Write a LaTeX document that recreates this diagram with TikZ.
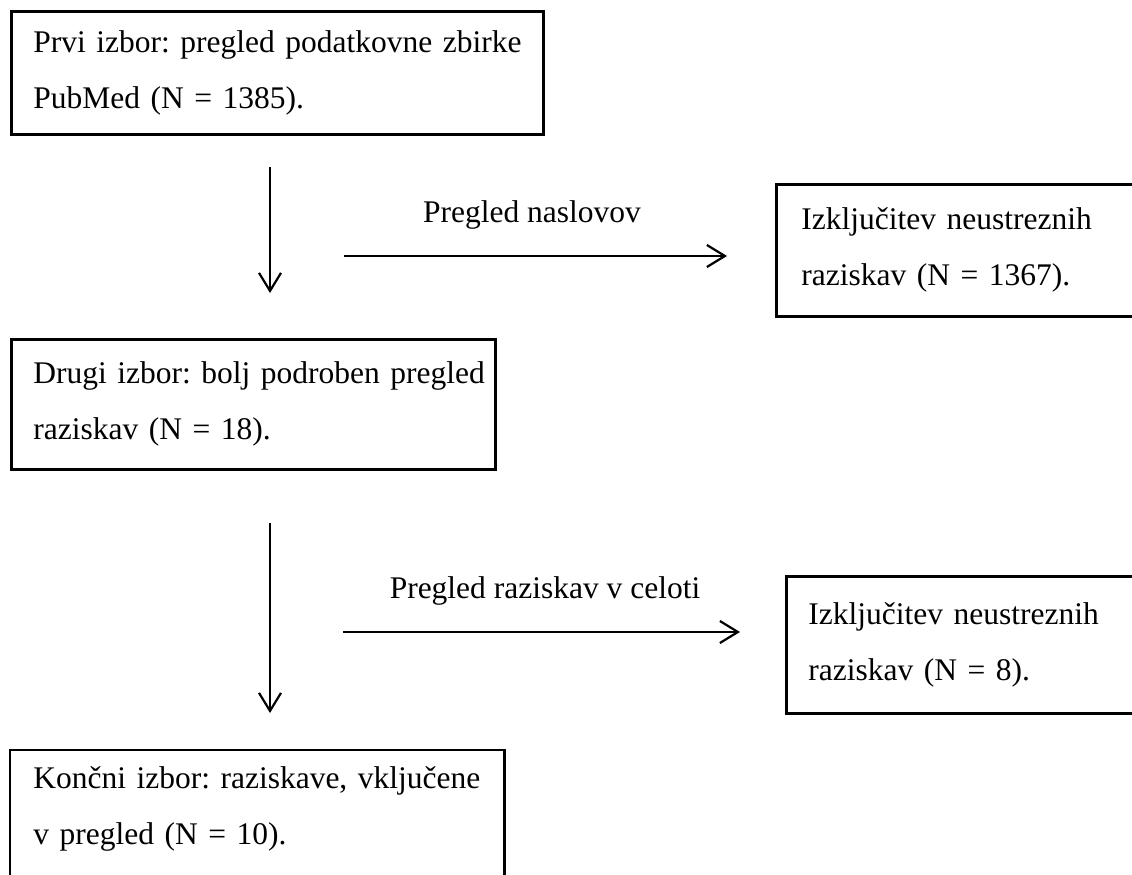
\documentclass[tikz,border=0pt]{standalone}
\usepackage{fontspec}
\setmainfont{Liberation Serif}
\usetikzlibrary{arrows.meta}
\frenchspacing
\begin{document}
\begin{tikzpicture}[x=1pt,y=-1pt,
  box/.style={draw, line width=2.7pt, rectangle, anchor=north west, align=left,
              inner xsep=22pt, inner ysep=0pt, font=\fontsize{31.5}{56}\selectfont},
  lbl/.style={anchor=base, inner sep=0pt, font=\fontsize{31.5}{38}\selectfont},
  arr/.style={line width=2.2pt, -{Straight Barb[length=18pt,width=22pt,line width=2.2pt]}}]
\useasboundingbox (0,0) rectangle (1132,875);
\clip (0,0) rectangle (1132,875);
\fill[white] (0,0) rectangle (1132,875);

% boxes
\node[box, text width=488pt, minimum height=123pt] (b1) at (10,10)
  {\mbox{Prvi izbor: pregled podatkovne zbirke}\\\mbox{PubMed (N = 1385).}};
\node[box, inner xsep=25pt, text width=340pt, minimum height=132pt] (b2) at (775,183)
  {\mbox{Izključitev neustreznih}\\\mbox{raziskav (N = 1367).}};
\node[box, text width=440pt, minimum height=130pt] (b3) at (10,338)
  {\mbox{Drugi izbor: bolj podroben pregled}\\\mbox{raziskav (N = 18).}};
\node[box, text width=340pt, minimum height=137pt] (b4) at (785,575)
  {\mbox{Izključitev neustreznih}\\\mbox{raziskav (N = 8).}};
\node[box, draw=none, text width=448pt, minimum height=116pt] (b5) at (10,750)
  {\mbox{Končni izbor: raziskave, vključene}\\\mbox{v pregled (N = 10).}};
\draw[line width=2.7pt] ([yshift=-60pt]b5.south west) -- (b5.north west)
  -- (b5.north east) -- ([yshift=-60pt]b5.south east);

% connector end points
\coordinate (v1s) at (270,167);
\coordinate (v1e) at (270,293);
\coordinate (h1s) at (344,256);
\coordinate (h1e) at (727,256);
\coordinate (v2s) at (270,523);
\coordinate (v2e) at (270,713);
\coordinate (h2s) at (343,632);
\coordinate (h2e) at (740,632);

\draw[arr] (v1s) -- (v1e);
\draw[arr] (h1s) -- (h1e);
\draw[arr] (v2s) -- (v2e);
\draw[arr] (h2s) -- (h2e);

\node[lbl] (l1) at (532,222) {Pregled naslovov};
\node[lbl] (l2) at (545,598) {Pregled raziskav v celoti};
\end{tikzpicture}
\end{document}
